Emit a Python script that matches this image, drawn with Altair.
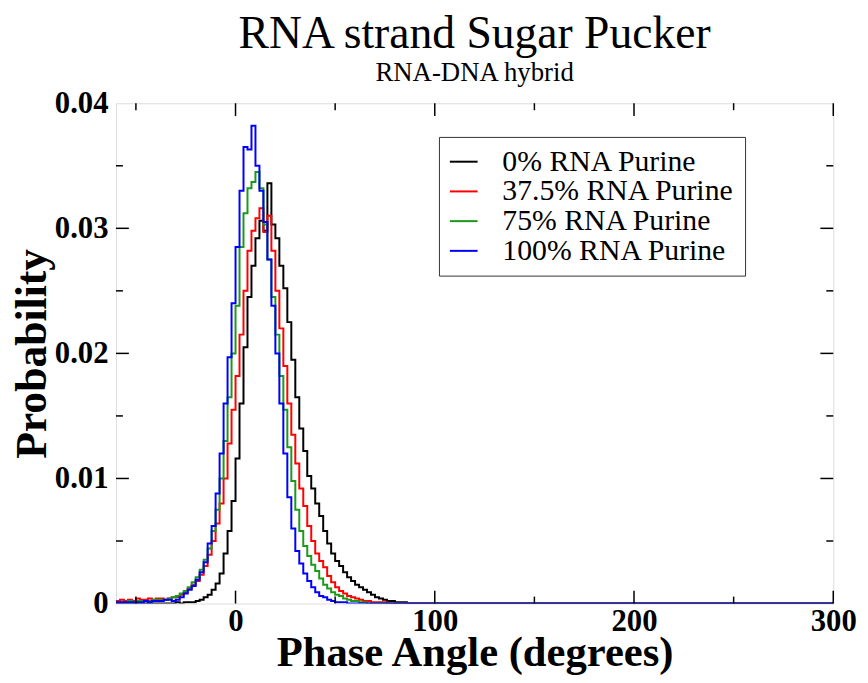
import altair as alt
import pandas as pd

# bin starts (degrees), 2-degree bins, then the empty tail to 300
bin_start = list(range(-60, 100, 2)) + [100, 300]

# probabilities in units of 1e-4, one value per bin
black_e4 = [0, 0, 0, 0, 0, 0, 0, 0, 0, 0, 0, 0, 0, 0, 0, 1, 0, 1, 1, 1,
            2, 3, 5, 7, 11, 16, 24, 40, 58, 82, 116, 160, 205, 245, 270, 292, 306, 298, 336, 303,
            292, 270, 252, 225, 195, 165, 140, 122, 102, 92, 80, 70, 58, 48, 40, 34, 30, 25, 21, 18,
            15, 13, 11, 9, 7, 5, 4, 3, 2, 2, 1, 1, 1, 0, 0, 0, 0, 0, 0, 0,
            0, 0]
red_e4 = [2, 3, 2, 3, 2, 4, 3, 3, 4, 3, 4, 4, 3, 4, 5, 5, 7, 9, 12, 15,
          18, 23, 30, 39, 50, 64, 80, 100, 128, 155, 182, 215, 250, 282, 298, 308, 316, 297, 310, 282,
          250, 220, 190, 160, 135, 112, 92, 78, 62, 50, 40, 34, 29, 22, 17, 13, 10, 8, 6, 5,
          4, 3, 2, 2, 1, 1, 1, 1, 0, 0, 0, 0, 0, 0, 0, 0, 0, 0, 0, 0,
          0, 0]
green_e4 = [1, 1, 1, 2, 1, 2, 2, 2, 2, 3, 3, 3, 3, 4, 5, 6, 8, 10, 13, 17,
            21, 27, 35, 44, 58, 75, 100, 130, 165, 200, 238, 285, 312, 332, 337, 345, 332, 303, 275, 245,
            215, 182, 155, 125, 98, 75, 58, 46, 38, 31, 26, 20, 15, 12, 9, 7, 6, 4, 3, 2,
            2, 1, 1, 0, 0, 0, 0, 0, 0, 0, 0, 0, 0, 0, 0, 0, 0, 0, 0, 0,
            0, 0]
blue_e4 = [1, 1, 1, 1, 1, 1, 1, 2, 1, 2, 2, 2, 3, 3, 2, 3, 5, 8, 11, 14,
           19, 25, 33, 48, 62, 88, 120, 160, 197, 240, 285, 330, 365, 363, 382, 350, 330, 305, 275, 238,
           200, 160, 120, 85, 60, 42, 32, 24, 18, 13, 9, 6, 5, 3, 2, 1, 1, 1, 0, 0,
           0, 0, 0, 0, 0, 0, 0, 0, 0, 0, 0, 0, 0, 0, 0, 0, 0, 0, 0, 0,
           0, 0]

series_names = ["0% RNA Purine", "37.5% RNA Purine", "75% RNA Purine", "100% RNA Purine"]
series_colors = ["#000000", "#ff0000", "#1a9a1a", "#0000ff"]
series_values = [black_e4, red_e4, green_e4, blue_e4]

x_major = [0, 100, 200, 300]
x_minor = [-50, 50, 150, 250]
y_major = [0.01, 0.02, 0.03]
y_minor = [0.005, 0.015, 0.025, 0.035]
y_labels = [0, 0.01, 0.02, 0.03, 0.04]

rows = []
for k, (name, vals) in enumerate(zip(series_names, series_values)):
    for i, (a, v) in enumerate(zip(bin_start, vals)):
        rows.append({"angle": a, "prob": v * 1e-4, "series": name, "ord": k * 1000 + i})
df = pd.DataFrame(rows)

W, H = 724, 505
FONT = "Liberation Serif"
xscale = alt.Scale(domain=[-60, 300], nice=False, zero=False)
yscale = alt.Scale(domain=[0, 0.04], nice=False)

xaxis = alt.Axis(values=x_major, ticks=False, domain=False, grid=False,
                 labelFont=FONT, labelFontSize=31, labelFontWeight="bold", labelColor="black",
                 labelPadding=3, labelFlush=False, labelOverlap=False,
                 title="Phase Angle (degrees)", titleFont=FONT, titleFontSize=43,
                 titleFontWeight="bold", titleColor="black",
                 titleBaseline="alphabetic", titleY=63)
yaxis = alt.Axis(values=y_labels, format=".2~f", ticks=False, domain=False, grid=False,
                 labelFont=FONT, labelFontSize=31, labelFontWeight="bold", labelColor="black",
                 labelPadding=8, labelFlush=False, labelOverlap=False,
                 title="Probability", titleFont=FONT, titleFontSize=44,
                 titleFontWeight="bold", titleColor="black",
                 titleBaseline="alphabetic", titleX=-71)

lines = alt.Chart(df).mark_line(interpolate="step-after", strokeWidth=2, clip=True).encode(
    x=alt.X("angle:Q", scale=xscale, axis=xaxis),
    y=alt.Y("prob:Q", scale=yscale, axis=yaxis),
    color=alt.Color("series:N", sort=series_names,
                    scale=alt.Scale(domain=series_names, range=series_colors),
                    legend=alt.Legend(title=None, orient="none", legendX=326, legendY=34,
                                      direction="vertical",
                                      strokeColor="#333333", fillColor="white", padding=10,
                                      symbolType="stroke", symbolSize=784, symbolStrokeWidth=2,
                                      labelFont=FONT, labelFontSize=30, labelColor="black",
                                      labelOffset=24, rowPadding=0, labelLimit=400)),
    order=alt.Order("ord:Q"),
)

def xticks(vals, y0, y1):
    return alt.Chart(pd.DataFrame({"angle": vals})).mark_rule(color="black", strokeWidth=1.5).encode(
        x=alt.X("angle:Q", scale=xscale), y=alt.value(y0), y2=alt.value(y1))

def yticks(vals, x0, x1):
    return alt.Chart(pd.DataFrame({"prob": vals})).mark_rule(color="black", strokeWidth=1.5).encode(
        y=alt.Y("prob:Q", scale=yscale), x=alt.value(x0), x2=alt.value(x1))

layers = [
    lines,
    xticks(x_major, H, H - 13), xticks(x_minor, H, H - 7),
    xticks(x_major, 0, 13), xticks(x_minor, 0, 7),
    yticks(y_major, 0, 13), yticks(y_minor, 0, 7),
    yticks(y_major, W, W - 13), yticks(y_minor, W, W - 7),
]

chart = alt.layer(*layers).properties(
    width=W, height=H,
    title=alt.TitleParams(text="RNA strand Sugar Pucker", subtitle="RNA-DNA hybrid",
                          font=FONT, fontSize=46, fontWeight="normal", color="black",
                          subtitleFont=FONT, subtitleFontSize=27, subtitleColor="black",
                          subtitlePadding=3, anchor="middle", offset=0),
    autosize=alt.AutoSizeParams(type="none"),
    padding={"left": 109, "top": 93, "right": 27, "bottom": 70},
).configure_view(stroke="black", strokeWidth=2).configure(background="white")

chart.save("out.html", embed_options={"renderer": "svg", "actions": False})
